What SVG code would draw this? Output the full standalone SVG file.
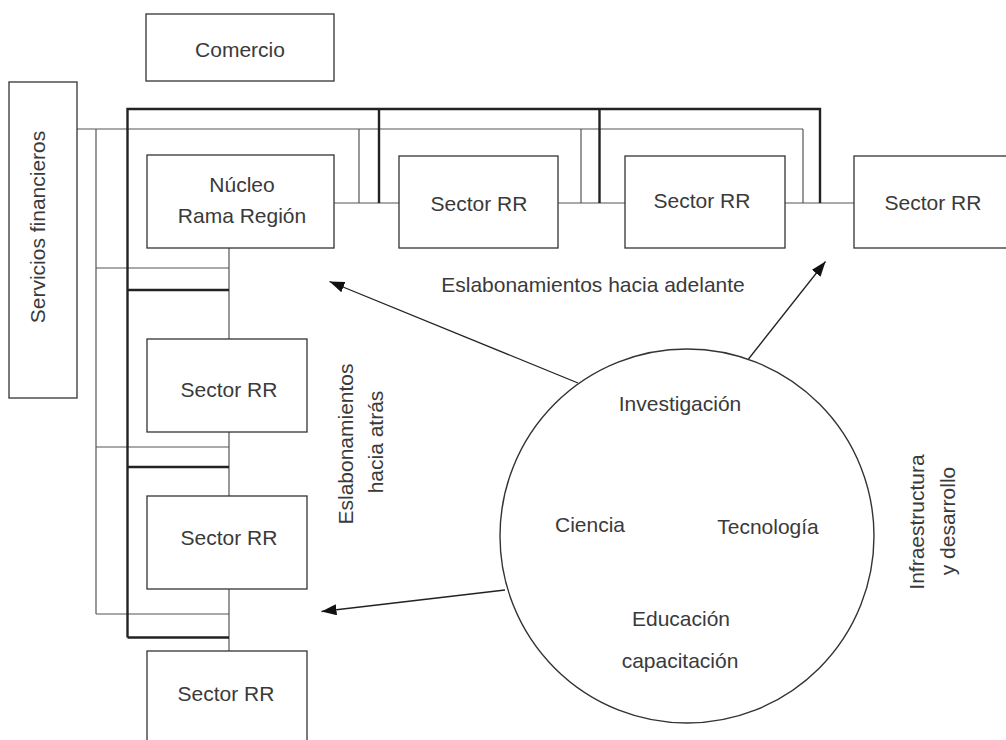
<svg xmlns="http://www.w3.org/2000/svg" width="1006" height="740" viewBox="0 0 1006 740">
  <style>
    .box { fill: #fff; stroke: #333; stroke-width: 1.3; }
    .thin { fill: none; stroke: #555; stroke-width: 1.2; }
    .thick { fill: none; stroke: #222; stroke-width: 2.4; }
    .arrow { fill: none; stroke: #222; stroke-width: 1.3; marker-end: url(#ah); }
    text { font-family: "Liberation Sans", Arial, sans-serif; font-size: 21px; fill: #3a3a3a; text-anchor: middle; }
  </style>
  <defs>
    <marker id="ah" markerUnits="userSpaceOnUse" markerWidth="16" markerHeight="12" refX="15" refY="5.5" orient="auto">
      <path d="M0,0 L15,5.5 L0,11 z" fill="#111"/>
    </marker>
  </defs>
  <rect width="1006" height="740" fill="#fff"/>

  <g id="connectors">
    <!-- thin network -->
    <path class="thin" d="M77,129 H803 M96,129 V614 M359,129 V203 M581,129 V203 M803,129 V203 M96,268 H229 M96,447 H229 M96,614 H229 M334,203 H399 M558,203 H625 M785,203 H854 M229,248 V339 M229,432 V496 M229,589 V651"/>
    <!-- thick network -->
    <path class="thick" d="M127.5,637.5 V109 H820 V203 M379,109 V203 M599.5,109 V203 M127.5,290 H229 M127.5,467 H229 M127.5,637.5 H229"/>
    <!-- arrows -->
    <line class="arrow" x1="578" y1="383" x2="329.5" y2="281.5"/>
    <line class="arrow" x1="505" y1="590" x2="321.5" y2="611.5"/>
    <line class="arrow" x1="748.5" y1="359" x2="825.5" y2="261.5"/>
  </g>

  <g id="comercio">
    <rect class="box" x="146" y="14" width="188" height="67"/>
    <text x="240" y="57">Comercio</text>
  </g>

  <g id="servicios-financieros">
    <rect class="box" x="9" y="82" width="68" height="316"/>
    <text transform="translate(45,227) rotate(-90)" font-size="20">Servicios financieros</text>
  </g>

  <g id="nucleo">
    <rect class="box" x="147" y="155" width="187" height="93"/>
    <text x="242" y="192">Núcleo</text>
    <text x="242" y="223">Rama Región</text>
  </g>

  <g id="sector-h1">
    <rect class="box" x="399" y="156" width="159" height="92"/>
    <text x="479" y="211">Sector RR</text>
  </g>

  <g id="sector-h2">
    <rect class="box" x="625" y="156" width="160" height="92"/>
    <text x="702" y="208">Sector RR</text>
  </g>

  <g id="sector-h3">
    <rect class="box" x="854" y="156" width="170" height="92"/>
    <text x="933" y="210">Sector RR</text>
  </g>

  <g id="sector-v1">
    <rect class="box" x="147" y="339" width="160" height="93"/>
    <text x="229" y="397">Sector RR</text>
  </g>

  <g id="sector-v2">
    <rect class="box" x="147" y="496" width="160" height="93"/>
    <text x="229" y="545">Sector RR</text>
  </g>

  <g id="sector-v3">
    <rect class="box" x="147" y="651" width="160" height="110"/>
    <text x="226" y="701">Sector RR</text>
  </g>

  <g id="circulo">
    <circle cx="687" cy="536" r="187" fill="#fff" stroke="#333" stroke-width="1.4"/>
    <text x="680" y="411">Investigación</text>
    <text x="590" y="532">Ciencia</text>
    <text x="768" y="534">Tecnología</text>
    <text x="681" y="626">Educación</text>
    <text x="680" y="668">capacitación</text>
  </g>

  <g id="labels">
    <text x="593" y="292">Eslabonamientos hacia adelante</text>
    <text transform="translate(353,444) rotate(-90)">Eslabonamientos</text>
    <text transform="translate(383,442) rotate(-90)">hacia atrás</text>
    <text transform="translate(924,522) rotate(-90)" font-size="22">Infraestructura</text>
    <text transform="translate(955,521) rotate(-90)" font-size="22">y desarrollo</text>
  </g>
</svg>
